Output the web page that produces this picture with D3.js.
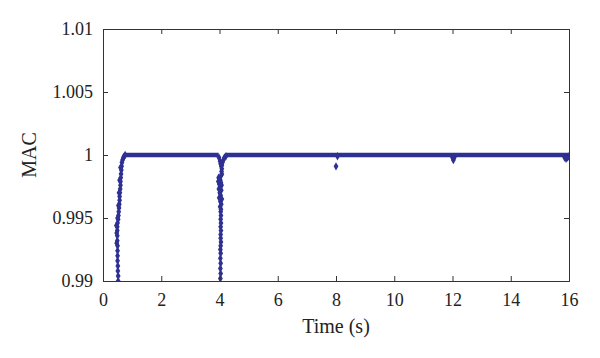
<!DOCTYPE html>
<meta charset="utf-8">
<style>
  body { margin: 0; background: #fff; }
  svg { display: block; }
  .axis path, .axis line { stroke: #333; }
</style>
<svg width="600" height="358"></svg>
<script src="https://cdn.jsdelivr.net/npm/d3@7"></script>
<script>

// steady parts of the curve, MAC = 1 (start, end in s)
var steady = [[0.76, 3.97], [4.22, 16]];

// transient samples: [time (s), MAC]
var startUp = [
  [0.52,0.9900],[0.52,0.9904],[0.51,0.9908],[0.51,0.9912],[0.50,0.9916],[0.50,0.9920],
  [0.50,0.9924],[0.50,0.9928],[0.49,0.9932],[0.49,0.9936],[0.49,0.9940],[0.49,0.9943],
  [0.50,0.9946],[0.52,0.9949],[0.53,0.9952],[0.54,0.9955],[0.55,0.9958],[0.56,0.9961],
  [0.57,0.9964],[0.57,0.9967],[0.58,0.9970],[0.59,0.9973],[0.60,0.9976],[0.60,0.9979],
  [0.61,0.9982],[0.62,0.9985],[0.63,0.9988],[0.64,0.9991],[0.65,0.9994],[0.67,0.9996],
  [0.70,0.9998],[0.73,0.9999],[0.76,1.0000],
  [0.47,0.9930],[0.47,0.9938],[0.46,0.9944],[0.50,0.9950],[0.53,0.9960],[0.55,0.9970],
  [0.57,0.9980],[0.60,0.9990]
];

var dropAt4 = [
  [3.98,0.9998],[4.02,0.9995],[4.04,0.9993],[4.06,0.9991],[4.08,0.9992],[4.10,0.9994],
  [4.13,0.9996],[4.17,0.9998],[4.22,0.9999],
  [4.08,0.9989],[4.07,0.9987],[4.08,0.9985],[4.06,0.9984],
  [3.97,0.9982],[4.00,0.9981],[4.03,0.9980],[3.96,0.9979],[4.05,0.9978],[3.99,0.9977],
  [4.07,0.9976],[4.02,0.9975],[3.98,0.9973],[4.06,0.9972],[4.01,0.9970],[4.04,0.9968],
  [3.99,0.9966],[4.08,0.9965],[4.03,0.9963],[4.06,0.9961],[4.02,0.9959],[4.05,0.9957],
  [4.04,0.9955],[4.05,0.9952],[4.04,0.9949],[4.05,0.9946],[4.04,0.9943],[4.05,0.9940],
  [4.04,0.9937],[4.04,0.9934],[4.05,0.9931],[4.04,0.9928],[4.03,0.9925],[4.04,0.9922],
  [4.03,0.9918],[4.04,0.9914],[4.03,0.9910],[4.04,0.9906],[4.03,0.9902]
];

var blips = [
  [8.00,0.9991],[8.05,0.9999],[12.00,0.9998],[12.03,0.9996],[12.06,0.9998],
  [15.85,0.9998],[15.90,0.9997],[15.95,0.9998],[16.00,0.9999]
];

var xTicks = [0, 2, 4, 6, 8, 10, 12, 14, 16];
var yTicks = [0.99, 0.995, 1, 1.005, 1.01];

var serif = "'Liberation Serif', 'Times New Roman', serif";

var svg = d3.select("svg"),
    margin = {top: 29, right: 31, bottom: 77, left: 103},
    width = +svg.attr("width") - margin.left - margin.right,
    height = +svg.attr("height") - margin.top - margin.bottom;

var x = d3.scaleLinear().domain([0, 16]).range([0, width]);
var y = d3.scaleLinear().domain([0.99, 1.01]).range([height, 0]);

var g = svg.append("g").attr("transform", "translate(" + margin.left + "," + margin.top + ")");

g.append("clipPath").attr("id", "clip")
  .append("rect").attr("y", -3).attr("width", width).attr("height", height + 3);

var plot = g.append("g").attr("clip-path", "url(#clip)");
var blue = "#2e3192";

plot.selectAll(".steady")
    .data(steady)
  .enter().append("line")
    .attr("class", "steady")
    .attr("x1", function(d) { return x(d[0]); })
    .attr("x2", function(d) { return x(d[1]); })
    .attr("y1", y(1))
    .attr("y2", y(1))
    .attr("stroke", blue)
    .attr("stroke-width", 4.5);

var diamond = d3.symbol().type(d3.symbolDiamond).size(20);

plot.selectAll(".pt")
    .data(startUp.concat(dropAt4, blips))
  .enter().append("path")
    .attr("class", "pt")
    .attr("d", diamond)
    .attr("transform", function(d) { return "translate(" + x(d[0]) + "," + y(d[1]) + ")"; })
    .attr("fill", blue);

// axes, ticks point inward
g.append("g").attr("class", "axis")
    .attr("transform", "translate(0," + height + ")")
    .call(d3.axisBottom(x).tickValues(xTicks).tickSize(-5).tickPadding(12).tickFormat(d3.format("d")));

g.append("g").attr("class", "axis")
    .call(d3.axisLeft(y).tickValues(yTicks).tickSize(-5).tickPadding(10).tickFormat(function(d) { return String(+d.toFixed(3)); }));

g.append("g").attr("class", "axis")
    .call(d3.axisTop(x).tickValues(xTicks).tickSize(-5).tickFormat(""));

g.append("g").attr("class", "axis")
    .attr("transform", "translate(" + width + ",0)")
    .call(d3.axisRight(y).tickValues(yTicks).tickSize(-5).tickFormat(""));

g.selectAll(".axis")
    .attr("font-family", serif)
    .attr("font-size", 18);
g.selectAll(".axis text").attr("fill", "#222");
g.selectAll(".axis .domain").attr("stroke", "#333");

svg.append("text")
    .attr("x", margin.left + width / 2)
    .attr("y", 333)
    .attr("text-anchor", "middle")
    .attr("font-family", serif)
    .attr("font-size", 20)
    .attr("fill", "#222")
    .text("Time (s)");

svg.append("text")
    .attr("transform", "translate(36," + (margin.top + y(1)) + ") rotate(-90)")
    .attr("text-anchor", "middle")
    .attr("font-family", serif)
    .attr("font-size", 20)
    .attr("fill", "#222")
    .text("MAC");

</script>
